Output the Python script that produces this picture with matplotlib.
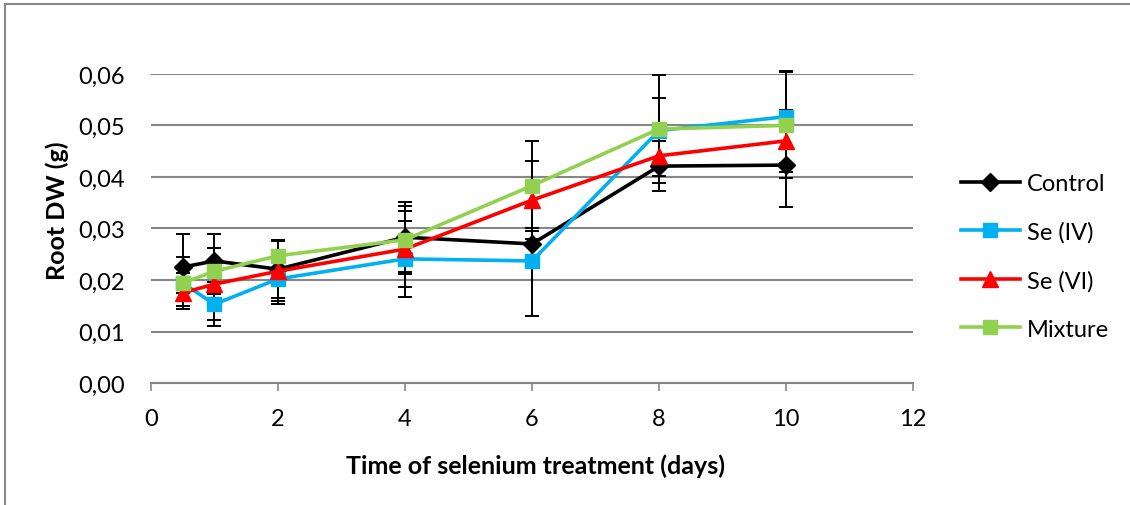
from matplotlib import pyplot as plt
from matplotlib.patches import Rectangle
from matplotlib.ticker import FuncFormatter, MultipleLocator
import numpy as np

plt.rcParams["font.family"] = ["Lato", "DejaVu Sans"]

# days of treatment
days = [0.5, 1, 2, 4, 6, 8, 10]

# root dry weight (g) and error bars
control = [0.0225, 0.0237, 0.0221, 0.0283, 0.0270, 0.0421, 0.0423]
control_err = [0.0065, 0.0052, 0.0055, 0.0068, 0.0030, 0.0049, 0.0082]

se_iv = [0.0194, 0.0153, 0.0202, 0.0241, 0.0237, 0.0490, 0.0517]
se_iv_err = [0.0050, 0.0043, 0.0048, 0.0074, 0.0107, 0.0064, 0.0089]

se_vi = [0.0175, 0.0192, 0.0217, 0.0260, 0.0355, 0.0441, 0.0470]
se_vi_err = [0.0025, 0.0070, 0.0058, 0.0074, 0.0076, 0.0040, 0.0060]

mixture = [0.0194, 0.0217, 0.0247, 0.0278, 0.0383, 0.0493, 0.0500]
mixture_err = [0.0020, 0.0045, 0.0030, 0.0066, 0.0087, 0.0105, 0.0103]

series = [
    ("Control", control, control_err, "black", "D", 9),
    ("Se (IV)", se_iv, se_iv_err, "#00B0F0", "s", 10),
    ("Se (VI)", se_vi, se_vi_err, "#FF0000", "^", 11),
    ("Mixture", mixture, mixture_err, "#92D050", "s", 10),
]

fig = plt.figure(figsize=(11.3, 5.06), dpi=100)
ax = fig.add_axes([0.1336, 0.241, 0.808 - 0.1336, 0.852 - 0.241])

# outer chart border
fig.patches.append(Rectangle((5 / 1130, -0.1), 1.2, 1.1 - 5 / 506,
                             transform=fig.transFigure, fill=False,
                             edgecolor="#888888", lw=1.5))

handles = []
for name, vals, err, color, marker, ms in series:
    ax.errorbar(days, vals, yerr=err, fmt="none", ecolor="black",
                elinewidth=1.4, capsize=5, capthick=1.4, clip_on=False, zorder=2)
    h, = ax.plot(days, vals, color=color, lw=2.6, marker=marker, ms=ms,
                 markeredgecolor=color, label=name, zorder=3, clip_on=False)
    handles.append(h)

ax.set_xlim(0, 12)
ax.set_ylim(0, 0.06)
ax.xaxis.set_major_locator(MultipleLocator(2))
ax.yaxis.set_major_locator(MultipleLocator(0.01))
ax.yaxis.set_major_formatter(FuncFormatter(lambda v, p: f"{v:.2f}".replace(".", ",")))

ax.grid(axis="y", color="#868686", lw=1.5)
ax.set_axisbelow(True)
for s in ["top", "right", "left"]:
    ax.spines[s].set_visible(False)
ax.spines["bottom"].set_color("#868686")
ax.spines["bottom"].set_linewidth(1.5)
ax.tick_params(axis="y", length=0, pad=19, labelsize=17)
ax.tick_params(axis="x", length=6, width=1.2, color="#868686", pad=12, labelsize=17)

ax.set_xlabel("Time of selenium treatment (days)", fontsize=18, fontweight="bold")
ax.set_ylabel("Root DW (g)", fontsize=18, fontweight="bold")
ax.xaxis.set_label_coords(0.504, (384 - 466) / 309, transform=ax.transAxes)
ax.yaxis.set_label_coords((57 - 151) / 762, (384 - 211) / 309, transform=ax.transAxes)
ax.xaxis.label.set_va("center")
ax.yaxis.label.set_va("center")

ax.legend(handles=handles, loc="center left", bbox_to_anchor=(1.035, 0.41),
          frameon=False, fontsize=17, handlelength=2.5, handletextpad=0.3,
          labelspacing=1.15)

fig.savefig("out.png", dpi=100)
